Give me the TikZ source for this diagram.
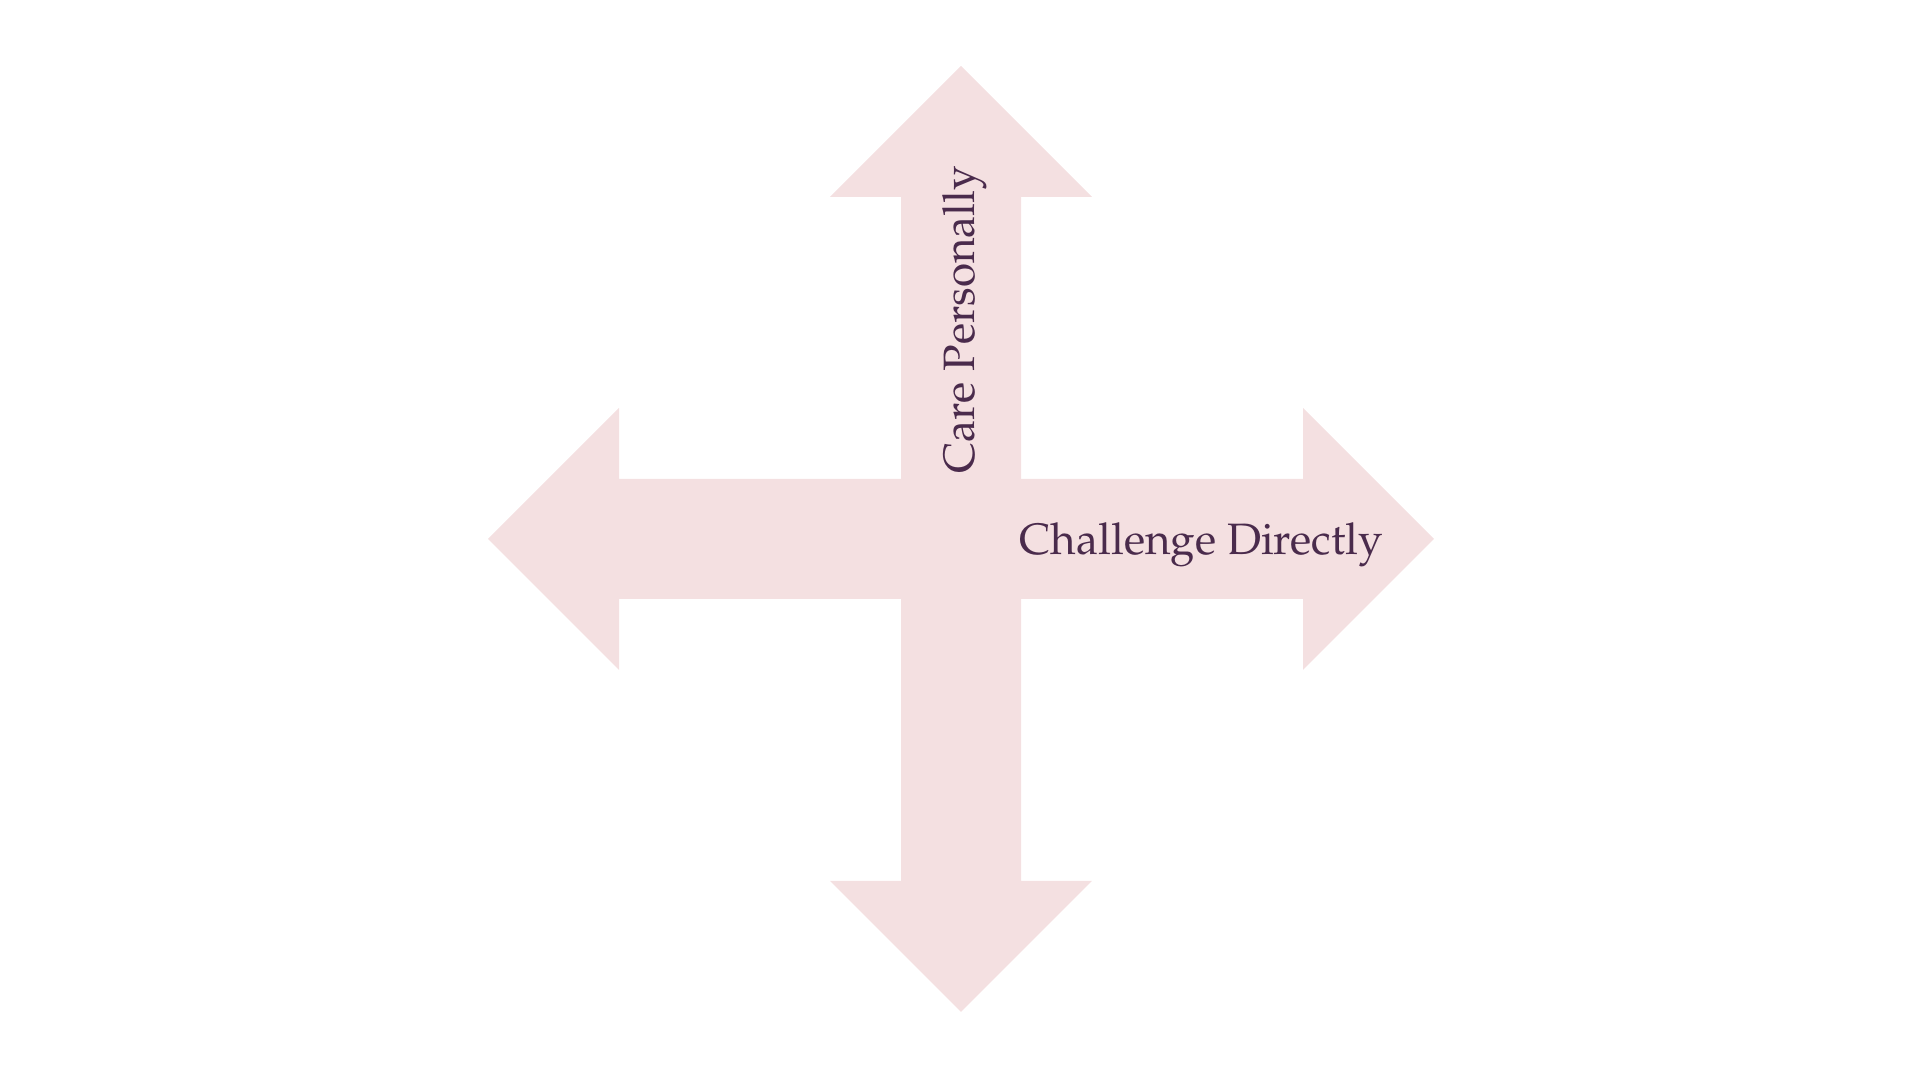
\documentclass[tikz,border=0pt]{standalone}
\usepackage[T1]{fontenc}
\usepackage{mathpazo}
\usepackage{xcolor}
\definecolor{cFill}{HTML}{F4E0E1}
\definecolor{cText}{HTML}{4A2B4C}
\usepackage{tikz}
\usetikzlibrary{positioning}
\tikzset{
  cross-fill/.style={fill=cFill,draw=none},
  axis-label/.style={text=cText,inner sep=0pt,font=\fontsize{12.5}{15}\selectfont},
}

\begin{document}
\begin{tikzpicture}[x=0.01cm,y=-0.01cm]
  \useasboundingbox (0,0) rectangle (1920,1080);
  % the cross: centre square plus four arrows
  \begin{scope}[shift={(961,539)}]
    \fill[cross-fill] (-60,-60) rectangle (60,60);
    \foreach \a in {0,90,180,270} {
      \fill[cross-fill,rotate=\a] (0,-60) -- (342,-60) -- (342,-131)
        -- (473,0) -- (342,131) -- (342,60) -- (0,60) -- cycle;
    }
  \end{scope}
  \node[axis-label,rotate=90,anchor=base west] (care) at (974,474) {Care Personally};
  \node[axis-label,anchor=base west] (challenge) at (1019,555) {Challenge Directly};
\end{tikzpicture}
\end{document}
